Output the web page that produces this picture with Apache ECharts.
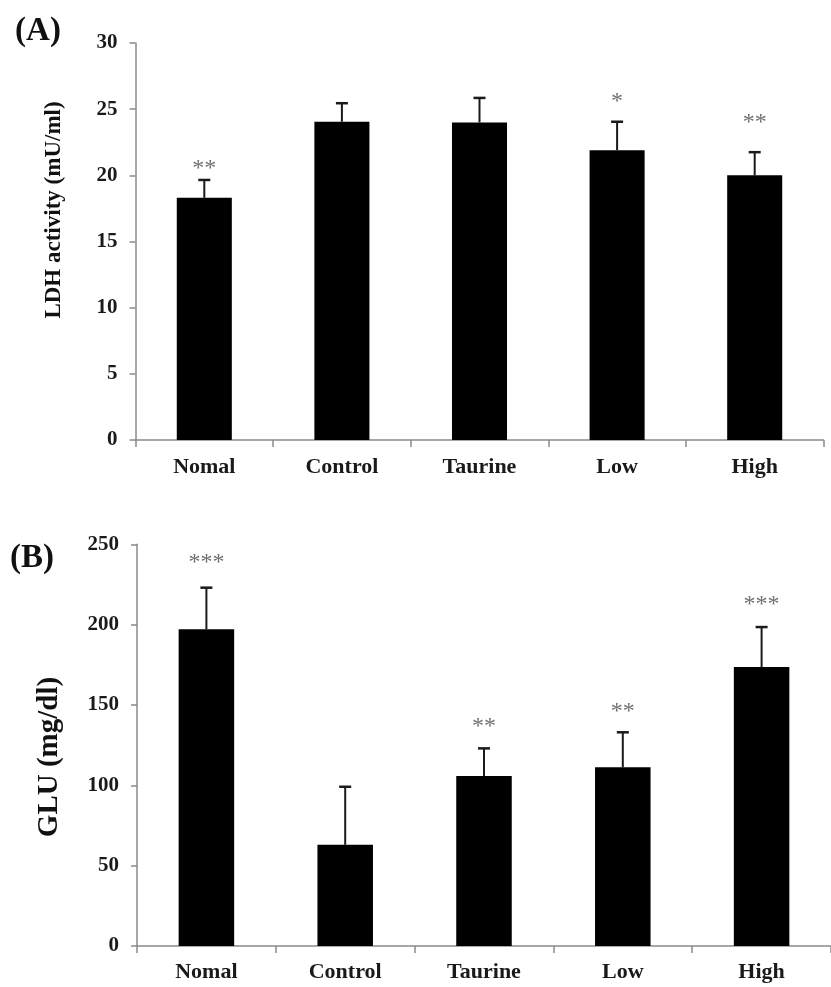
<!DOCTYPE html>
<html>
<head>
<meta charset="utf-8">
<script src="https://cdn.jsdelivr.net/npm/echarts@6/dist/echarts.min.js"></script>
<style>
html,body{margin:0;padding:0;background:#fff;}
#chart{width:831px;height:987px;}
</style>
</head>
<body>
<div id="chart"></div>
<script>
const categories = ['Nomal', 'Control', 'Taurine', 'Low', 'High'];

const ldhMean = [18.3, 24.05, 24.0, 21.9, 20.0];
const ldhSd = [1.35, 1.4, 1.85, 2.15, 1.75];
const ldhStars = ['**', '', '', '*', '**'];
const ldhStarPos = [20.56, null, null, 25.62, 24.04];
const ldhTicks = { min: 0, max: 30, interval: 5 };

const gluMean = [197.1, 63.0, 105.8, 111.2, 173.6];
const gluSd = [25.9, 36.1, 17.2, 21.8, 24.9];
const gluStars = ['***', '', '**', '**', '***'];
const gluStarPos = [239, null, 136.9, 146.2, 212.8];
const gluTicks = { min: 0, max: 250, interval: 50 };

const FONT = "'Liberation Serif', 'Times New Roman', serif";
const AXIS_COLOR = '#8a8a8a';

function errData(mean, sd) {
  return mean.map((m, i) => [i, m, m + sd[i]]);
}
function starData(pos, stars) {
  const out = [];
  pos.forEach((p, i) => { if (p != null && stars[i]) out.push([i, p, stars[i]]); });
  return out;
}
function errRender(params, api) {
  const base = api.coord([api.value(0), api.value(1)]);
  const top = api.coord([api.value(0), api.value(2)]);
  const half = 6;
  return {
    type: 'group',
    children: [
      { type: 'line', shape: { x1: top[0], y1: base[1], x2: top[0], y2: top[1] },
        style: { stroke: '#1a1a1a', lineWidth: 2 } },
      { type: 'line', shape: { x1: top[0] - half, y1: top[1], x2: top[0] + half, y2: top[1] },
        style: { stroke: '#1a1a1a', lineWidth: 2.5 } }
    ]
  };
}
function starRender(params, api) {
  const p = api.coord([api.value(0), api.value(1)]);
  return {
    type: 'text',
    style: {
      x: p[0], y: p[1] + 1, text: api.value(2),
      fill: '#707070', font: '24px ' + FONT,
      align: 'center', verticalAlign: 'middle'
    }
  };
}

function xAxisCfg(gridIndex, margin) {
  return {
    type: 'category', gridIndex, data: categories,
    axisLine: { lineStyle: { color: AXIS_COLOR, width: 1.5 } },
    axisTick: { show: true, length: 7, lineStyle: { color: AXIS_COLOR, width: 1.5 } },
    axisLabel: { color: '#1a1a1a', fontFamily: FONT, fontWeight: 'bold', fontSize: 22, margin }
  };
}
function yAxisCfg(gridIndex, t) {
  return {
    type: 'value', gridIndex, min: t.min, max: t.max, interval: t.interval,
    splitLine: { show: false },
    axisLine: { show: true, lineStyle: { color: AXIS_COLOR, width: 1.5 } },
    axisTick: { show: true, length: 6, lineStyle: { color: AXIS_COLOR, width: 1.5 } },
    axisLabel: { color: '#1a1a1a', fontFamily: FONT, fontWeight: 'bold', fontSize: 21, margin: 18 }
  };
}

const chart = echarts.init(document.getElementById('chart'), null, { renderer: 'canvas' });
chart.setOption({
  animation: false,
  backgroundColor: '#fff',
  grid: [
    { left: 135.5, right: 7.5, top: 43, bottom: 547 },
    { left: 137, right: -6, top: 544.3, bottom: 41 }
  ],
  xAxis: [xAxisCfg(0, 16), xAxisCfg(1, 15)],
  yAxis: [yAxisCfg(0, ldhTicks), yAxisCfg(1, gluTicks)],
  graphic: [
    { type: 'text', x: 38, y: 31, style: { text: '(A)', font: 'bold 33px ' + FONT, fill: '#111', align: 'center', verticalAlign: 'middle' } },
    { type: 'text', x: 32, y: 558, style: { text: '(B)', font: 'bold 33px ' + FONT, fill: '#111', align: 'center', verticalAlign: 'middle' } },
    { type: 'text', x: 54, y: 210, rotation: Math.PI / 2, style: { text: 'LDH activity (mU/ml)', font: 'bold 23px ' + FONT, fill: '#111', align: 'center', verticalAlign: 'middle' } },
    { type: 'text', x: 50, y: 757, rotation: Math.PI / 2, style: { text: 'GLU (mg/dl)', font: 'bold 29px ' + FONT, fill: '#111', align: 'center', verticalAlign: 'middle' } }
  ],
  series: [
    { type: 'bar', xAxisIndex: 0, yAxisIndex: 0, data: ldhMean, barWidth: '40%', itemStyle: { color: '#000' } },
    { type: 'custom', xAxisIndex: 0, yAxisIndex: 0, data: errData(ldhMean, ldhSd), renderItem: errRender, encode: { x: 0, y: [1, 2] }, z: 3 },
    { type: 'custom', xAxisIndex: 0, yAxisIndex: 0, data: starData(ldhStarPos, ldhStars), renderItem: starRender, encode: { x: 0, y: 1 }, z: 4 },
    { type: 'bar', xAxisIndex: 1, yAxisIndex: 1, data: gluMean, barWidth: '40%', itemStyle: { color: '#000' } },
    { type: 'custom', xAxisIndex: 1, yAxisIndex: 1, data: errData(gluMean, gluSd), renderItem: errRender, encode: { x: 0, y: [1, 2] }, z: 3 },
    { type: 'custom', xAxisIndex: 1, yAxisIndex: 1, data: starData(gluStarPos, gluStars), renderItem: starRender, encode: { x: 0, y: 1 }, z: 4 }
  ]
});
</script>
</body>
</html>
